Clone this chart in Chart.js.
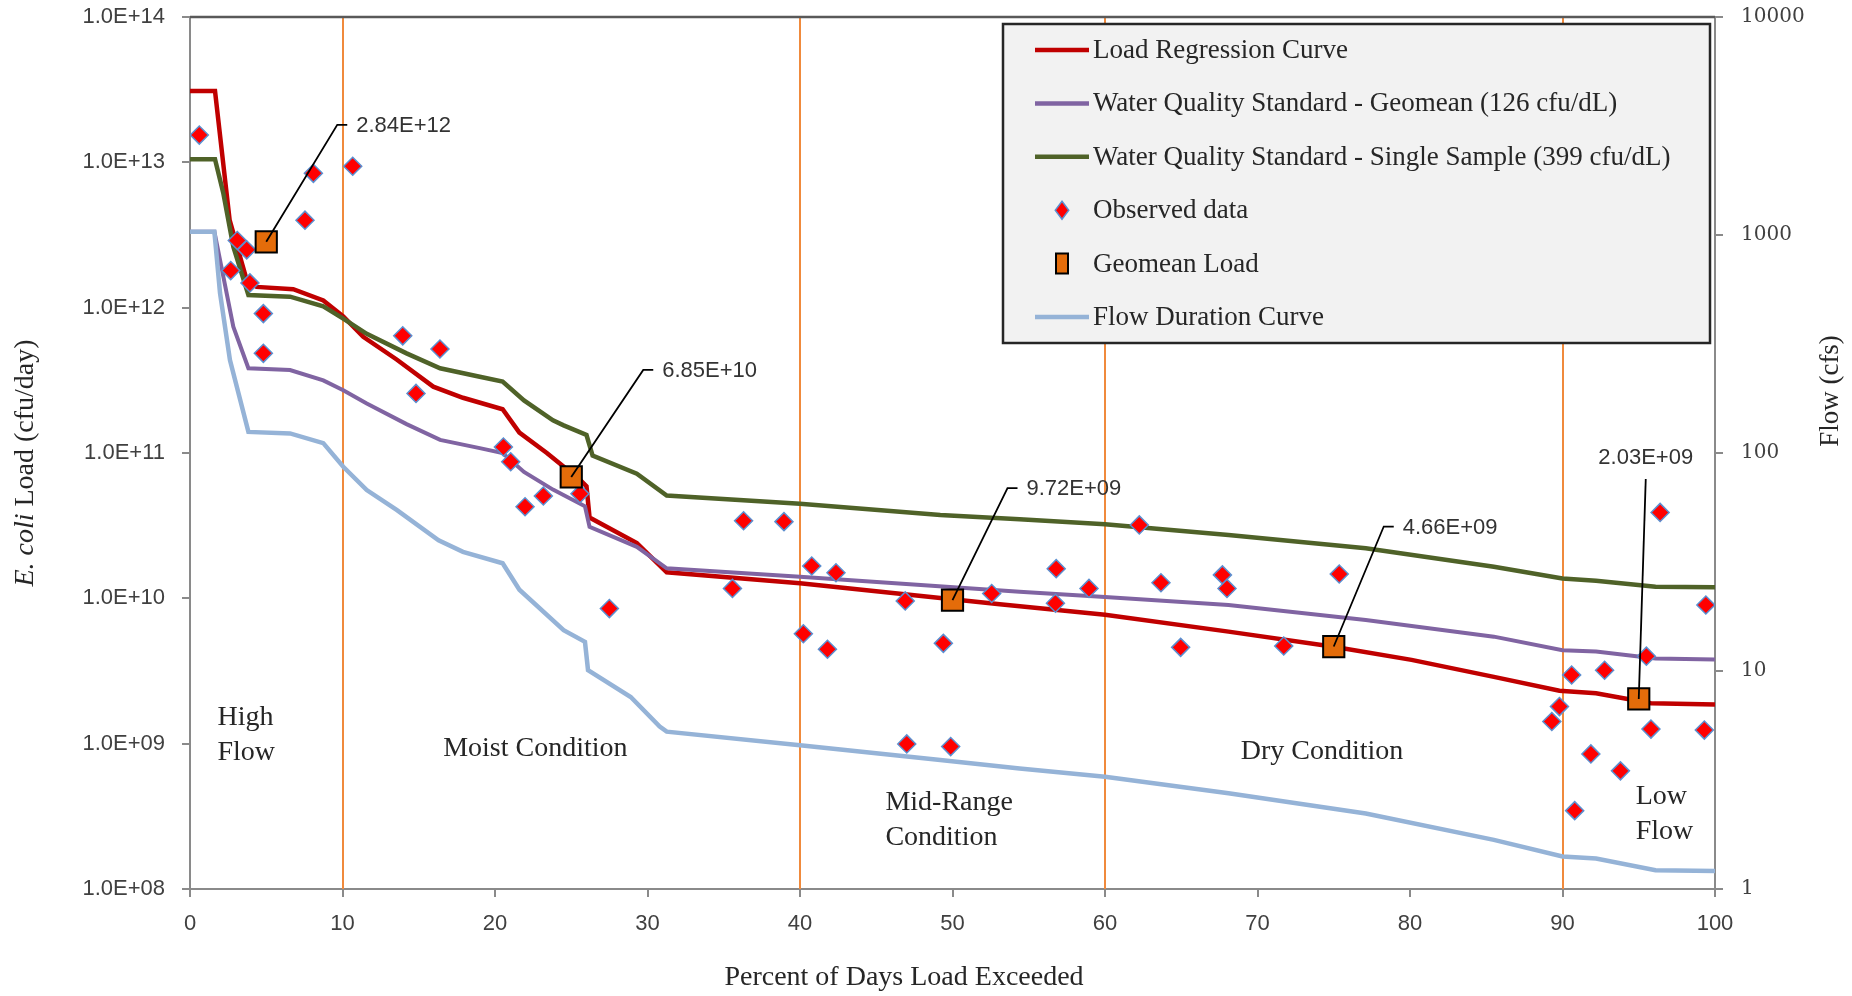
<!DOCTYPE html>
<html>
<head>
<meta charset="utf-8">
<title>E. coli Load Duration Curve</title>
<script src="https://cdn.jsdelivr.net/npm/chart.js@4.4.0/dist/chart.umd.min.js"></script>
<style>
  html, body { margin: 0; padding: 0; background: #fff; }
  #wrap { position: relative; width: 1852px; height: 996px; }
</style>
</head>
<body>
<div id="wrap"><canvas id="ldc"></canvas></div>
<script>
// load duration curve

// Load regression curve (cfu/day)
const regressionPct = [0, 1.64, 2.6, 3.72, 4.37, 6.77, 8.74, 10.05, 11.36, 13.55, 15.95, 17.9, 20.5, 21.6, 23.4, 25.6, 26.0, 26.2, 29.3, 31.26, 40, 53.1, 60, 68.1, 75, 80.1, 85.5, 89.8, 92.2, 95.8, 100];
const regressionLoad = [3.1e13, 3.1e13, 4.0e12, 1.55e12, 1.39e12, 1.34e12, 1.12e12, 8.7e11, 6.3e11, 4.4e11, 2.86e11, 2.4e11, 2.0e11, 1.38e11, 1.0e11, 6.5e10, 5.9e10, 3.6e10, 2.4e10, 1.51e10, 1.27e10, 9.1e9, 7.7e9, 5.9e9, 4.64e9, 3.77e9, 2.88e9, 2.31e9, 2.22e9, 1.9e9, 1.86e9];

// Water quality standard - geomean (126 cfu/dL)
const geomeanStdPct = [0, 1.6, 2.19, 2.84, 3.83, 6.56, 8.74, 10.05, 11.59, 14.2, 16.4, 19.0, 20.5, 21.9, 23.8, 25.9, 26.2, 29.3, 31.26, 40, 54.4, 60, 68.1, 77.1, 85.5, 90, 92.2, 96.1, 100];
const geomeanStdLoad = [3.33e12, 3.33e12, 1.63e12, 7.4e11, 3.83e11, 3.72e11, 3.16e11, 2.7e11, 2.19e11, 1.58e11, 1.23e11, 1.08e11, 1.0e11, 7.4e10, 5.6e10, 4.3e10, 3.1e10, 2.26e10, 1.61e10, 1.41e10, 1.11e10, 1.02e10, 9.0e9, 7.1e9, 5.45e9, 4.4e9, 4.3e9, 3.86e9, 3.8e9];

// Water quality standard - single sample (399 cfu/dL)
const singleStdPct = [0, 1.64, 2.19, 2.84, 3.83, 6.56, 8.74, 10.05, 11.59, 14.2, 16.4, 19.0, 20.5, 21.9, 23.8, 24.5, 26.0, 26.4, 29.3, 31.26, 40, 49.2, 54.4, 60, 68.1, 77.1, 85.5, 90, 92.2, 96.1, 100];
const singleStdLoad = [1.05e13, 1.05e13, 6.1e12, 2.63e12, 1.22e12, 1.19e12, 1.02e12, 8.4e11, 6.6e11, 4.85e11, 3.83e11, 3.35e11, 3.1e11, 2.3e11, 1.68e11, 1.55e11, 1.33e11, 9.6e10, 7.2e10, 5.1e10, 4.47e10, 3.74e10, 3.5e10, 3.24e10, 2.73e10, 2.21e10, 1.65e10, 1.37e10, 1.32e10, 1.2e10, 1.19e10];

// Flow duration curve (cfs, right axis)
const flowPct = [0, 1.6, 1.97, 2.62, 3.83, 6.56, 8.74, 10.05, 11.59, 13.55, 16.3, 17.9, 20.5, 21.6, 24.5, 25.9, 26.1, 28.9, 30.8, 31.26, 40, 49.2, 54.4, 60, 68.1, 77.1, 85.5, 90, 92.2, 96.1, 100];
const flowCfs = [1035, 1035, 541, 267, 125, 123, 111, 86.5, 67.6, 54.8, 39.8, 35.2, 31.2, 23.6, 15.4, 13.6, 10.1, 7.6, 5.56, 5.27, 4.57, 3.91, 3.57, 3.27, 2.75, 2.22, 1.68, 1.41, 1.38, 1.22, 1.21];

// Observed data (cfu/day)
const observedPct = [0.61, 8.09, 10.67, 7.54, 3.10, 3.72, 2.67, 3.93, 4.81, 4.81, 13.95, 16.39, 14.82, 20.55, 21.03, 23.17, 21.97, 25.57, 27.5, 36.3, 38.95, 35.57, 40.77, 42.36, 40.22, 41.8, 46.9, 52.57, 49.4, 47.0, 49.88, 62.25, 56.8, 56.75, 58.95, 63.67, 67.7, 68.0, 64.96, 71.72, 75.36, 90.6, 92.76, 89.8, 89.3, 91.86, 93.8, 90.8, 96.4, 95.5, 95.8, 99.3, 99.4];
const observedLoad = [1.54e13, 8.4e12, 9.4e12, 4.0e12, 2.9e12, 2.5e12, 1.8e12, 1.48e12, 9.1e11, 4.85e11, 6.4e11, 5.2e11, 2.57e11, 1.1e11, 8.7e10, 5.06e10, 4.27e10, 5.25e10, 8.5e9, 3.42e10, 3.37e10, 1.17e10, 1.67e10, 1.5e10, 5.7e9, 4.46e9, 9.6e9, 1.08e10, 4.9e9, 9.96e8, 9.55e8, 3.2e10, 1.6e10, 9.25e9, 1.17e10, 1.28e10, 1.45e10, 1.17e10, 4.6e9, 4.7e9, 1.47e10, 2.97e9, 3.2e9, 1.8e9, 1.42e9, 8.5e8, 6.5e8, 3.46e8, 3.9e10, 4.0e9, 1.26e9, 1.24e9, 9.0e9];

// Geomean load per flow zone
const geomeanLoadPct = [5, 25, 50, 75, 95];
const geomeanLoad = [2.84e12, 6.85e10, 9.72e9, 4.66e9, 2.03e9];
const geomeanLabels = ['2.84E+12', '6.85E+10', '9.72E+09', '4.66E+09', '2.03E+09'];

// Flow zones
const zoneBounds = [10, 40, 60, 90];
const zoneNames = [['High', 'Flow'], ['Moist Condition'], ['Mid-Range', 'Condition'], ['Dry Condition'], ['Low', 'Flow']];
const zoneNamePct = [1.8, 16.6, 45.6, 68.9, 94.8];
const zoneNameLoad = [1.14e9, 9.3e8, 2.96e8, 8.75e8, 3.28e8];

// Axis ticks
const loadTicks = [1e8, 1e9, 1e10, 1e11, 1e12, 1e13, 1e14];
const loadTickLabels = ['1.0E+08', '1.0E+09', '1.0E+10', '1.0E+11', '1.0E+12', '1.0E+13', '1.0E+14'];
const flowTicks = [1, 10, 100, 1000, 10000];
const flowTickLabels = ['1', '10', '100', '1000', '10000'];

const zip = (xs, ys) => xs.map((x, i) => ({ x: x, y: ys[i] }));

const SERIF = '"Liberation Serif", "Times New Roman", serif';
const SANS = '"Liberation Sans", Arial, sans-serif';
const AXIS_GREY = '#8a8a8a';

// where the callout leader lines go, relative to each square (px)
const calloutOffsets = [[71, -117], [72, -107], [55, -112], [50, -120], [7, -220]];

function lineSet(label, data, color, width, order, yAxis) {
  return {
    label: label, data: data, showLine: true, borderColor: color, backgroundColor: color,
    borderWidth: width, pointRadius: 0, tension: 0, order: order, yAxisID: yAxis || 'y',
    legendKind: 'line'
  };
}

const datasets = [
  lineSet('Load Regression Curve', zip(regressionPct, regressionLoad), '#C00000', 4.5, 5),
  lineSet('Water Quality Standard - Geomean (126 cfu/dL)', zip(geomeanStdPct, geomeanStdLoad), '#8064A2', 4, 3),
  lineSet('Water Quality Standard - Single Sample (399 cfu/dL)', zip(singleStdPct, singleStdLoad), '#4F6228', 4.5, 4),
  {
    label: 'Observed data', data: zip(observedPct, observedLoad), showLine: false,
    pointStyle: 'rectRot', pointRadius: 9, backgroundColor: '#FF0000', borderColor: '#5B8FD0',
    borderWidth: 1.5, order: 1, yAxisID: 'y', legendKind: 'point'
  },
  {
    label: 'Geomean Load', data: zip(geomeanLoadPct, geomeanLoad), showLine: false,
    pointStyle: 'rect', pointRadius: 15, backgroundColor: '#E46C0A', borderColor: '#000000',
    borderWidth: 2, order: 0, yAxisID: 'y', legendKind: 'point'
  },
  lineSet('Flow Duration Curve', zip(flowPct, flowCfs), '#95B3D7', 4.5, 2, 'y2')
];

function drawMarker(ctx, ds, x, y, r) {
  ctx.save();
  ctx.fillStyle = ds.backgroundColor;
  ctx.strokeStyle = ds.borderColor;
  ctx.lineWidth = ds.borderWidth;
  ctx.beginPath();
  if (ds.pointStyle === 'rectRot') {
    ctx.moveTo(x, y - r); ctx.lineTo(x + r * 0.75, y); ctx.lineTo(x, y + r); ctx.lineTo(x - r * 0.75, y);
  } else {
    ctx.rect(x - r * 0.6, y - r, r * 1.2, r * 2);
  }
  ctx.closePath();
  ctx.fill();
  ctx.stroke();
  ctx.restore();
}

const decor = {
  id: 'ldcDecor',
  beforeDatasetsDraw(chart) {
    const { ctx, chartArea: a, scales } = chart;
    ctx.save();
    ctx.strokeStyle = '#F08A3C';
    ctx.lineWidth = 2;
    zoneBounds.forEach(p => {
      const px = Math.round(scales.x.getPixelForValue(p));
      ctx.beginPath();
      ctx.moveTo(px, a.top);
      ctx.lineTo(px, a.bottom);
      ctx.stroke();
    });
    ctx.restore();
  },
  afterDraw(chart) {
    const { ctx, chartArea: a, scales } = chart;
    const x = scales.x, y = scales.y;
    ctx.save();

    // top border of the plot
    ctx.strokeStyle = '#595959';
    ctx.lineWidth = 2.5;
    ctx.beginPath();
    ctx.moveTo(a.left, a.top);
    ctx.lineTo(a.right, a.top);
    ctx.stroke();

    // callouts for the geomean loads
    ctx.strokeStyle = '#000';
    ctx.lineWidth = 1.8;
    ctx.fillStyle = '#333';
    ctx.font = '22px ' + SANS;
    geomeanLoadPct.forEach((p, i) => {
      const sx = x.getPixelForValue(p), sy = y.getPixelForValue(geomeanLoad[i]);
      const ex = sx + calloutOffsets[i][0], ey = sy + calloutOffsets[i][1];
      ctx.beginPath();
      ctx.moveTo(sx, sy);
      ctx.lineTo(ex, ey);
      if (i < geomeanLoadPct.length - 1) {
        ctx.lineTo(ex + 10, ey);
        ctx.stroke();
        ctx.textAlign = 'left';
        ctx.textBaseline = 'middle';
        ctx.fillText(geomeanLabels[i], ex + 19, ey + 1);
      } else {
        ctx.stroke();
        ctx.textAlign = 'center';
        ctx.textBaseline = 'middle';
        ctx.fillText(geomeanLabels[i], ex, ey - 21);
      }
    });

    // zone names
    ctx.fillStyle = '#262626';
    ctx.font = '28px ' + SERIF;
    ctx.textAlign = 'left';
    ctx.textBaseline = 'middle';
    zoneNames.forEach((lines, i) => {
      const lx = x.getPixelForValue(zoneNamePct[i]);
      const cy = y.getPixelForValue(zoneNameLoad[i]);
      const lh = 35;
      lines.forEach((t, j) => {
        ctx.fillText(t, lx, cy + (j - (lines.length - 1) / 2) * lh);
      });
    });

    // legend box
    const bx = 1003, by = 24, bw = 707, bh = 319;
    ctx.fillStyle = '#F2F2F2';
    ctx.fillRect(bx, by, bw, bh);
    ctx.strokeStyle = '#262626';
    ctx.lineWidth = 2.5;
    ctx.strokeRect(bx, by, bw, bh);
    ctx.font = '27px ' + SERIF;
    ctx.textBaseline = 'middle';
    ctx.textAlign = 'left';
    chart.data.datasets.forEach((ds, i) => {
      const ry = by + 26 + i * 53.4;
      if (ds.legendKind === 'line') {
        ctx.strokeStyle = ds.borderColor;
        ctx.lineWidth = 4.5;
        ctx.beginPath();
        ctx.moveTo(bx + 32, ry);
        ctx.lineTo(bx + 86, ry);
        ctx.stroke();
      } else {
        drawMarker(ctx, ds, bx + 59, ry, ds.pointStyle === 'rect' ? 10 : 9);
      }
      ctx.fillStyle = '#262626';
      ctx.fillText(ds.label, bx + 90, ry + 1);
    });

    // axis titles
    ctx.fillStyle = '#262626';
    ctx.textBaseline = 'middle';
    ctx.textAlign = 'center';
    ctx.font = '28px ' + SERIF;
    ctx.fillText('Percent of Days Load Exceeded', 904, 978);

    // left title, "E. coli" in italics
    const partA = 'E. coli', partB = ' Load (cfu/day)';
    ctx.font = 'italic 28px ' + SERIF;
    const wA = ctx.measureText(partA).width;
    ctx.font = '28px ' + SERIF;
    const wB = ctx.measureText(partB).width;
    ctx.save();
    ctx.translate(26, 463);
    ctx.rotate(-Math.PI / 2);
    ctx.textAlign = 'left';
    ctx.font = 'italic 28px ' + SERIF;
    ctx.fillText(partA, -(wA + wB) / 2, 0);
    ctx.font = '28px ' + SERIF;
    ctx.fillText(partB, -(wA + wB) / 2 + wA, 0);
    ctx.restore();

    ctx.save();
    ctx.translate(1831, 391);
    ctx.rotate(-Math.PI / 2);
    ctx.textAlign = 'center';
    ctx.font = '27px ' + SERIF;
    ctx.fillText('Flow (cfs)', 0, 0);
    ctx.restore();

    ctx.restore();
  }
};

const axisGrid = { display: true, drawOnChartArea: false, drawTicks: true, tickLength: 8, color: AXIS_GREY, lineWidth: 2 };
const axisBorder = { display: true, color: AXIS_GREY, width: 2 };

// vertical axes: fixed width, no extra room above/below for the end labels
function fixVertical(width) {
  return s => { s.width = width; s.paddingTop = 0; s.paddingBottom = 0; };
}

new Chart(document.getElementById('ldc'), {
  type: 'scatter',
  data: { datasets: datasets },
  plugins: [decor],
  options: {
    responsive: true,
    maintainAspectRatio: false,
    devicePixelRatio: 1,
    animation: false,
    events: [],
    layout: { padding: { top: 17, right: 0, bottom: 0, left: 0 } },
    plugins: { legend: { display: false }, tooltip: { enabled: false } },
    scales: {
      x: {
        type: 'linear', min: 0, max: 100,
        grid: axisGrid, border: axisBorder,
        ticks: { stepSize: 10, padding: 14, color: '#404040', font: { family: SANS, size: 22 } },
        afterFit: s => { s.height = 107; s.paddingLeft = 0; s.paddingRight = 0; }
      },
      y: {
        type: 'logarithmic', position: 'left', min: 1e8, max: 1e14,
        grid: axisGrid, border: axisBorder,
        afterBuildTicks: s => { s.ticks = loadTicks.map(v => ({ value: v })); },
        ticks: {
          padding: 17, color: '#404040', font: { family: SANS, size: 22 },
          callback: (v, i) => loadTickLabels[i]
        },
        afterFit: fixVertical(190)
      },
      y2: {
        type: 'logarithmic', position: 'right', min: 1, max: 10000,
        grid: axisGrid, border: axisBorder,
        afterBuildTicks: s => { s.ticks = flowTicks.map(v => ({ value: v })); },
        ticks: {
          padding: 18, color: '#404040', font: { family: '"DejaVu Serif", serif', size: 20 },
          callback: (v, i) => flowTickLabels[i]
        },
        afterFit: fixVertical(137)
      }
    }
  }
});
</script>
</body>
</html>
